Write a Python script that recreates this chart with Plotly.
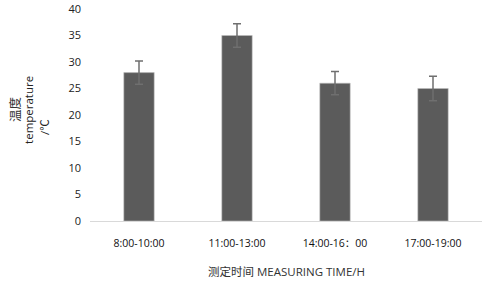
import plotly.graph_objects as go

categories = ["8:00-10:00", "11:00-13:00", "14:00-16：00", "17:00-19:00"]
values = [28, 35, 26, 25]
errors = [2.2, 2.2, 2.2, 2.3]
y_ticks = [0, 5, 10, 15, 20, 25, 30, 35, 40]

font_family = "Open Sans, Noto Sans CJK SC, sans-serif"

fig = go.Figure()
fig.add_trace(go.Bar(
    x=categories, y=values,
    marker=dict(color="#5b5b5b", line=dict(color="#bdbdbd", width=0.6)),
    width=0.31,
    error_y=dict(type="data", array=errors, visible=True,
                 color="#6f6f6f", thickness=1.5, width=4),
))

title_font = dict(family=font_family, size=11.5, color="#222222")
common = dict(xref="paper", yref="paper", x=0, textangle=-90, showarrow=False,
              xanchor="center", yanchor="middle")
fig.add_annotation(text="温度", y=0.528, xshift=-76,
                   font=dict(family="Noto Sans CJK SC, sans-serif", size=12.5,
                             color="#333333"), **common)
fig.add_annotation(text="temperature", y=0.524, xshift=-61, font=title_font, **common)
fig.add_annotation(text="/℃", y=0.443, xshift=-46, font=title_font, **common)
fig.add_annotation(text="测定时间 MEASURING TIME/H", xref="paper", yref="paper",
                   x=0.5, y=0, yshift=-50, xanchor="center", yanchor="middle",
                   showarrow=False,
                   font=dict(family=font_family, size=11.5, color="#333333"))

fig.update_layout(
    width=485, height=281,
    margin=dict(l=90, r=3, t=9, b=60),
    paper_bgcolor="white", plot_bgcolor="white",
    font=dict(family=font_family, size=11, color="#222222"),
    showlegend=False,
    xaxis=dict(
        showline=True, linecolor="#d9d9d9", linewidth=1,
        showgrid=False, ticks="", ticklen=0, automargin=False,
        tickfont=dict(size=10.5, color="#111111"),
        ticklabelstandoff=12,
    ),
    yaxis=dict(
        range=[0, 40], tickvals=y_ticks, showgrid=False, zeroline=False,
        showline=False, ticks="", automargin=False,
        tickfont=dict(size=11, color="#222222"),
        ticklabelstandoff=8,
    ),
)

fig.write_html("out.html",
               config={"displayModeBar": False},
               post_script="document.body.style.margin='0';")
